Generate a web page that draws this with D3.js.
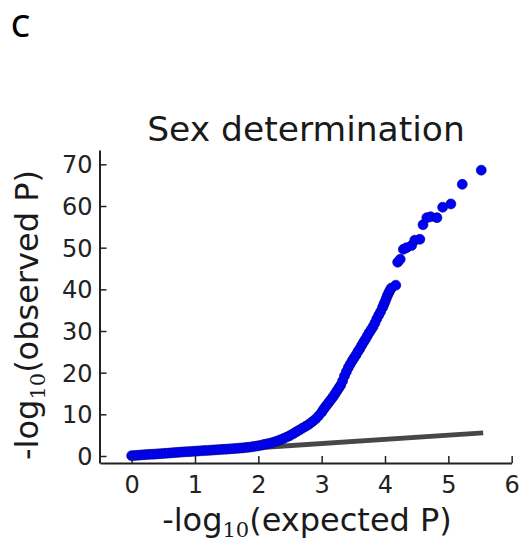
<!DOCTYPE html>
<html>
<head>
<meta charset="utf-8">
<script src="https://cdn.jsdelivr.net/npm/d3@7"></script>
<style>
  html, body { margin: 0; padding: 0; background: #fff; }
  svg { display: block; }
</style>
</head>
<body>
<svg id="chart" width="521" height="541"></svg>
<script>
// ---- data ----
const panelLabel = "C";
const title = "Sex determination";
const xTicks = [0, 1, 2, 3, 4, 5, 6];
const yTicks = [0, 10, 20, 30, 40, 50, 60, 70];

// expected -log10(P)
const expected = [
  0.00,0.05,0.10,0.15,0.20,0.25,0.30,0.35,0.40,0.45,0.50,0.55,0.60,0.65,0.70,0.75,0.80,0.85,0.90,0.95,
  1.00,1.05,1.10,1.15,1.20,1.25,1.30,1.35,1.40,1.45,1.50,1.55,1.60,1.65,1.70,1.75,1.80,1.85,1.90,1.95,
  2.00,2.05,2.10,2.15,2.20,2.25,2.30,2.35,2.40,2.45,2.50,2.55,2.60,2.65,2.70,2.75,2.80,2.85,2.90,2.95,
  3.00,3.03,3.06,3.09,3.12,3.15,3.18,3.21,3.24,3.27,3.30,3.33,3.36,3.39,3.42,3.45,3.48,3.51,3.54,3.57,
  3.60,3.63,3.66,3.69,3.72,3.75,3.78,3.81,3.84,3.87,3.90,3.93,3.96,3.98,4.00,4.02,4.04,4.06,4.08,4.10,
  4.17,4.20,4.24,4.29,4.34,4.42,4.47,4.55,4.60,4.66,4.72,4.82,4.91,5.04,5.22,5.52
];
// observed -log10(P)
const observed = [
  0.08,0.14,0.19,0.25,0.30,0.35,0.40,0.45,0.50,0.55,0.60,0.66,0.72,0.78,0.84,0.90,0.95,1.00,1.05,1.10,
  1.15,1.20,1.25,1.30,1.35,1.40,1.45,1.50,1.55,1.60,1.65,1.71,1.77,1.83,1.89,1.95,2.02,2.10,2.20,2.32,
  2.45,2.60,2.80,2.95,3.10,3.35,3.60,3.90,4.20,4.55,4.90,5.35,5.80,6.25,6.70,7.15,7.60,8.20,8.80,9.60,
  10.5,11.2,11.8,12.4,13.0,13.6,14.2,14.9,15.6,16.3,17.0,18.0,19.2,20.2,21.2,22.0,22.8,23.5,24.2,25.0,
  25.7,26.5,27.3,28.0,28.8,29.6,30.3,31.0,31.9,32.9,33.8,34.6,35.6,36.3,37.0,37.8,38.6,39.2,39.8,40.3,
  41.0,46.5,47.2,49.6,50.0,50.5,51.8,52.0,55.5,57.2,57.4,57.2,59.7,60.5,65.2,68.6
];
// null line (expected = observed)
const nullLineX = [0, 5.55];
const nullLineY = [0, 5.55];

// ---- drawing ----
const svg = d3.select("#chart");
const x = d3.scaleLinear().domain([-0.5, 6]).range([100, 511.67]);
const y = d3.scaleLinear().domain([-1.68, 73.44]).range([463, 150]);

const font = "'DejaVu Sans', sans-serif";

// panel label
svg.append("text")
  .attr("x", 11).attr("y", 37)
  .attr("font-family", "'Noto Sans', 'Open Sans', sans-serif")
  .attr("font-size", 30)
  .attr("font-weight", 500)
  .attr("fill", "#000")
  .text(panelLabel);

// title
svg.append("text")
  .attr("x", 306).attr("y", 141)
  .attr("text-anchor", "middle")
  .attr("font-family", font)
  .attr("font-size", 34.5)
  .attr("fill", "#1a1a1a")
  .text(title);

// null line
svg.append("line")
  .attr("x1", x(nullLineX[0])).attr("y1", y(nullLineY[0]))
  .attr("x2", x(nullLineX[1])).attr("y2", y(nullLineY[1]))
  .attr("stroke", "#474747")
  .attr("stroke-width", 5);

// points
const pts = expected.map((e, i) => ({ e, o: observed[i] }));
svg.append("g").selectAll("circle")
  .data(pts)
  .join("circle")
  .attr("cx", d => x(d.e))
  .attr("cy", d => y(d.o))
  .attr("r", 5)
  .attr("fill", "#0000ff")
  .attr("stroke", "#00007a")
  .attr("stroke-width", 0.6);

// axes
const xAxis = d3.axisBottom(x).tickValues(xTicks).tickFormat(d3.format("d"))
  .tickSizeInner(-7).tickSizeOuter(0).tickPadding(13);
const yAxis = d3.axisLeft(y).tickValues(yTicks).tickFormat(d3.format("d"))
  .tickSizeInner(-7).tickSizeOuter(0).tickPadding(7);

const gx = svg.append("g").attr("transform", "translate(0,463)").call(xAxis);
const gy = svg.append("g").attr("transform", "translate(99.5,0)").call(yAxis);

[gx, gy].forEach(g => {
  g.select(".domain").attr("stroke", "#222").attr("stroke-width", 2);
  g.selectAll(".tick line").attr("stroke", "#222").attr("stroke-width", 1.5);
  g.selectAll(".tick text")
    .attr("font-family", font)
    .attr("font-size", 24)
    .attr("fill", "#222");
});
gy.selectAll(".tick text").attr("dy", "0.36em");

// axis labels
const xl = svg.append("text")
  .attr("x", 307).attr("y", 531)
  .attr("text-anchor", "middle")
  .attr("font-family", font)
  .attr("font-size", 32)
  .attr("fill", "#1a1a1a");
xl.append("tspan").text("-log");
xl.append("tspan").attr("font-family", "'DejaVu Serif', serif").attr("font-size", 21).attr("dy", 6).text("10");
xl.append("tspan").attr("dy", -6).text("(expected P)");

const yl = svg.append("text")
  .attr("transform", "translate(38,315) rotate(-90)")
  .attr("text-anchor", "middle")
  .attr("font-family", font)
  .attr("font-size", 32)
  .attr("fill", "#1a1a1a");
yl.append("tspan").text("-log");
yl.append("tspan").attr("font-family", "'DejaVu Serif', serif").attr("font-size", 21).attr("dy", 7).text("10");
yl.append("tspan").attr("dy", -7).text("(observed P)");
</script>
</body>
</html>
